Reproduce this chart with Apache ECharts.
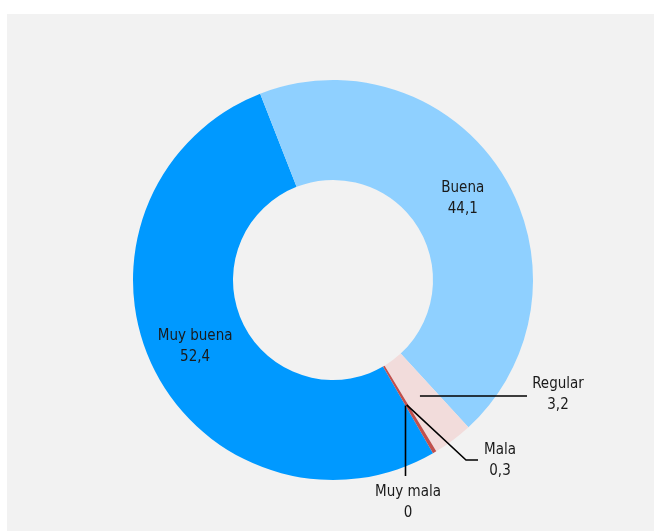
<!DOCTYPE html>
<html>
<head>
<meta charset="utf-8">
<script src="https://cdn.jsdelivr.net/npm/echarts@6/dist/echarts.min.js"></script>
<style>
  html, body { margin: 0; padding: 0; background: #fff; }
  #main { width: 654px; height: 531px; }
</style>
</head>
<body>
<div id="main"></div>
<script>
// datos
var categorias = ['Muy buena', 'Buena', 'Regular', 'Mala', 'Muy mala'];
var valores = [52.4, 44.1, 3.2, 0.3, 0];
var textos = ['52,4', '44,1', '3,2', '0,3', '0'];
var colores = ['#0099ff', '#8fd0ff', '#f2dcdb', '#c0504d', '#7f7f7f'];

var fuente = '"Liberation Sans Narrow", "DejaVu Sans Condensed", sans-serif';
var internas = ['Muy buena', 'Buena'];

// etiquetas externas: centro del texto y recorrido de la guía
var externas = {
  'Regular':  { x: 558, y: 395, guia: function (a) { return [a, [527, a[1]], [527, a[1]]]; } },
  'Mala':     { x: 500, y: 461, guia: function (a) { return [a, [466, 460], [478, 460]]; } },
  'Muy mala': { x: 408, y: 503, guia: function (a) { return [a, [a[0], 476], [a[0], 476]]; } }
};

function etiqueta(i) { return categorias[i] + '\n' + textos[i]; }

var anillo = categorias.map(function (c, i) {
  return {
    name: c, value: valores[i],
    itemStyle: { color: colores[i] },
    label: { show: internas.indexOf(c) >= 0 }
  };
});
var guias = categorias.map(function (c, i) {
  return {
    name: c, value: valores[i],
    itemStyle: { color: 'rgba(0,0,0,0)' },
    label: { show: !!externas[c] },
    labelLine: { show: !!externas[c] }
  };
});

var myChart = echarts.init(document.getElementById('main'));
var option = {
  animation: false,
  backgroundColor: '#fff',
  graphic: [{
    type: 'rect', z: -10, silent: true,
    shape: { x: 7, y: 14, width: 647, height: 517 },
    style: { fill: '#f2f2f2' }
  }],
  series: [
    {
      type: 'pie',
      z: 2,
      center: [333, 280],
      radius: [100, 200],
      startAngle: 300,
      clockwise: true,
      silent: true,
      avoidLabelOverlap: false,
      data: anillo,
      label: {
        position: 'inside',
        formatter: function (p) { return etiqueta(p.dataIndex); },
        fontFamily: fuente, fontSize: 15, lineHeight: 21,
        color: '#1a1a1a', align: 'center'
      },
      labelLine: { show: false }
    },
    {
      type: 'pie',
      z: 5,
      center: [333, 280],
      radius: [0, 145],
      startAngle: 300,
      clockwise: true,
      silent: true,
      avoidLabelOverlap: false,
      data: guias,
      label: {
        position: 'outside',
        formatter: function (p) { return etiqueta(p.dataIndex); },
        fontFamily: fuente, fontSize: 15, lineHeight: 21,
        color: '#1a1a1a', align: 'center'
      },
      labelLine: { lineStyle: { color: '#000', width: 1.6 } },
      labelLayout: function (p) {
        var e = externas[categorias[p.dataIndex]];
        if (!e) return {};
        var a = p.labelLinePoints ? p.labelLinePoints[0]
          : [p.rect.x + p.rect.width / 2, p.rect.y + p.rect.height / 2];
        return {
          x: e.x, y: e.y, align: 'center', verticalAlign: 'middle',
          labelLinePoints: e.guia(a)
        };
      }
    }
  ]
};
myChart.setOption(option);
</script>
</body>
</html>
